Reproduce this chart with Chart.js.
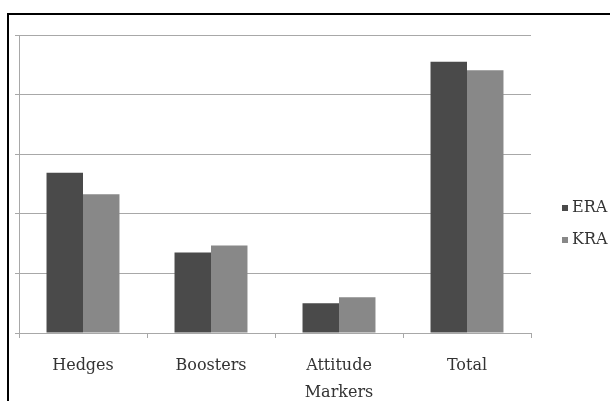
<!DOCTYPE html>
<html>
<head>
<meta charset="utf-8">
<script src="https://cdn.jsdelivr.net/npm/chart.js@4"></script>
<style>
  html, body { margin: 0; padding: 0; background: #fff; overflow: hidden; }
  #frame { position: absolute; left: 7px; top: 13px; width: 700px; height: 500px;
           border-left: 2px solid #000; border-top: 2px solid #000; }
  #wrap { position: absolute; left: 0; top: 0; width: 610px; height: 401px; }
</style>
</head>
<body>
<div id="frame"></div>
<div id="wrap"><canvas id="myChart" width="610" height="401"></canvas></div>
<script>
// data (one gridline = 1 unit)
const categories = ['Hedges', 'Boosters', ['Attitude', 'Markers'], 'Total'];
const eraValues = [2.69, 1.35, 0.50, 4.55];
const kraValues = [2.33, 1.47, 0.60, 4.41];
const yTicks = [0, 1, 2, 3, 4, 5];

const gridGray = '#a8a8a8';
const fontFamily = '"DejaVu Serif", "Liberation Serif", serif';

// legend drawn by hand so it can sit where the original one is
const sideLegend = {
    id: 'sideLegend',
    afterDraw(chart) {
        const ctx = chart.ctx;
        ctx.save();
        ctx.font = '16px ' + fontFamily;
        ctx.textBaseline = 'middle';
        chart.data.datasets.forEach((ds, i) => {
            const y = 208 + i * 32;
            ctx.fillStyle = ds.backgroundColor;
            ctx.fillRect(562, y - 3, 6, 6);
            ctx.fillStyle = '#333';
            ctx.fillText(ds.label, 572, y);
        });
        ctx.restore();
    }
};

const data = {
    labels: categories,
    datasets: [{
        label: 'ERA',
        backgroundColor: '#4a4a4a',
        data: eraValues,
    }, {
        label: 'KRA',
        backgroundColor: '#888888',
        data: kraValues,
    }]
};

const config = {
    type: 'bar',
    data,
    plugins: [sideLegend],
    options: {
        responsive: false,
        animation: false,
        devicePixelRatio: 1,
        layout: { padding: { left: 15, top: 35, right: 79, bottom: 0 } },
        datasets: { bar: { categoryPercentage: 0.57, barPercentage: 1.0 } },
        plugins: { legend: { display: false }, tooltip: { enabled: false } },
        scales: {
            x: {
                grid: { display: true, drawOnChartArea: false, color: gridGray, tickLength: 5, offset: true },
                border: { color: gridGray, width: 1 },
                ticks: { color: '#333', padding: 15, font: { family: fontFamily, size: 16, lineHeight: 1.65 }, maxRotation: 0 },
                afterFit(scale) { scale.height = 68; }
            },
            y: {
                min: yTicks[0],
                max: yTicks[yTicks.length - 1],
                afterBuildTicks(scale) { scale.ticks = yTicks.map(v => ({ value: v })); },
                grid: { color: gridGray, tickLength: 4 },
                border: { color: gridGray, width: 1 },
                ticks: { display: false }
            }
        }
    }
};

var myChart = new Chart(document.getElementById('myChart'), config);
</script>
</body>
</html>
